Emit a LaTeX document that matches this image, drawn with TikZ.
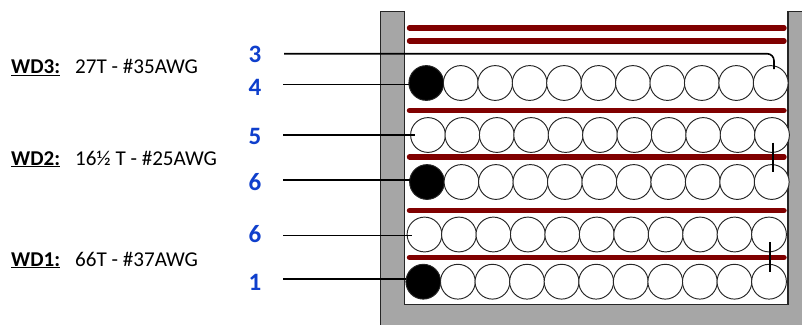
\documentclass[tikz,border=0pt]{standalone}
\usepackage{fontspec}
\setmainfont{Carlito}
\definecolor{wallgray}{HTML}{A6A6A6}
\definecolor{tapered}{HTML}{800000}
\definecolor{pinblue}{HTML}{0F3FCC}
\tikzset{
  x=1pt,y=-1pt,
  wall/.style={fill=wallgray,draw=black!85,line width=1.5pt,line join=miter},
  tape/.style={draw=tapered,line width=5.4pt,line cap=round},
  turn/.style={circle,draw=black!85,line width=0.95pt,fill=white,minimum size=34.8pt,inner sep=0pt,outer sep=0pt},
  startturn/.style={turn,fill=black},
  lead/.style={draw=black,line width=1.6pt},
  pin/.style={font=\fontsize{25}{25}\selectfont\bfseries,text=pinblue,inner sep=0pt,anchor=center},
  wdlabel/.style={font=\fontsize{21.1}{24}\selectfont,inner sep=0pt,anchor=base west},
}
\newcommand{\turnrow}[5]{% name, y, first x, last x, style of the first
  \foreach \i in {1,...,11}{
    \pgfmathsetmacro{\cx}{#3+(#4-#3)*(\i-1)/10}
    \ifnum\i=1
      \node[#5] (#1c\i) at (\cx,#2) {};
    \else
      \node[turn] (#1c\i) at (\cx,#2) {};
    \fi
  }
}
\begin{document}
\begin{tikzpicture}
\useasboundingbox (0,0) rectangle (802,324);
\begin{scope}
\clip (0,0) rectangle (802,324);
\draw[wall] (380.5,340) -- (380.5,11.5) -- (404.3,11.5) -- (404.3,304.3) -- (788,304.3) -- (788,11.5) -- (820,11.5) -- (820,340) -- cycle;
\end{scope}
% tape layers
\foreach \n/\y in {a/28,b/41,c/110.5,d/157,e/210.5,f/257.5}{
  \coordinate (tape\n l) at (409.5,\y);
  \coordinate (tape\n r) at (784,\y);
  \draw[tape] (tape\n l) -- (tape\n r);
}
% turns
\turnrow{ra}{83}{426.3}{770.7}{startturn}
\turnrow{rb}{135}{428}{772}{turn}
\turnrow{rc}{182}{427}{771.7}{startturn}
\turnrow{rd}{234.5}{424.5}{769}{turn}
\turnrow{re}{281.7}{423.3}{769}{startturn}
% pin numbers
\node[pin] (p3) at (255,54) {3};
\node[pin] (p4) at (255,87) {4};
\node[pin] (p5) at (255,136) {5};
\node[pin] (p6a) at (255,182) {6};
\node[pin] (p6b) at (255,234) {6};
\node[pin] (p1) at (255,282) {1};
% free ends
\coordinate (s3) at (284,53.7);
\coordinate (s4) at (283,84.5);
\coordinate (s5) at (283,135);
\coordinate (s6a) at (283,180);
\coordinate (s6b) at (283,235.5);
\coordinate (s1) at (283,279);
\coordinate (e3) at (774,69);
\coordinate (e5) at (415,135);
\coordinate (e6b) at (412,235.5);
\coordinate (ta1) at (772.7,142.7);
\coordinate (ta2) at (772.7,172);
\coordinate (tb1) at (769.7,242);
\coordinate (tb2) at (769.7,272);
% leads
\draw[lead,rounded corners=7pt] (s3) -| (e3);
\draw[lead] (s4) -- (s4 -| rac1.west);
\draw[lead] (s5) -- (e5);
\draw[lead] (s6a) -- (s6a -| rcc1.west);
\draw[lead] (s6b) -- (e6b);
\draw[lead] (s1) -- (s1 -| rec1.west);
\draw[lead] (ta1) -- (ta2);
\draw[lead] (tb1) -- (tb2);
% winding labels
\node[wdlabel] (wd3) at (11,73.3) {\textbf{\underline{WD3:}}};
\node[wdlabel] (wd3t) at (75,73.3) {27T - \#35AWG};
\node[wdlabel] (wd2) at (11,165) {\textbf{\underline{WD2:}}};
\node[wdlabel] (wd2t) at (75,165) {16½ T - \#25AWG};
\node[wdlabel] (wd1) at (11,266) {\textbf{\underline{WD1:}}};
\node[wdlabel] (wd1t) at (75,266) {66T - \#37AWG};
\end{tikzpicture}
\end{document}
